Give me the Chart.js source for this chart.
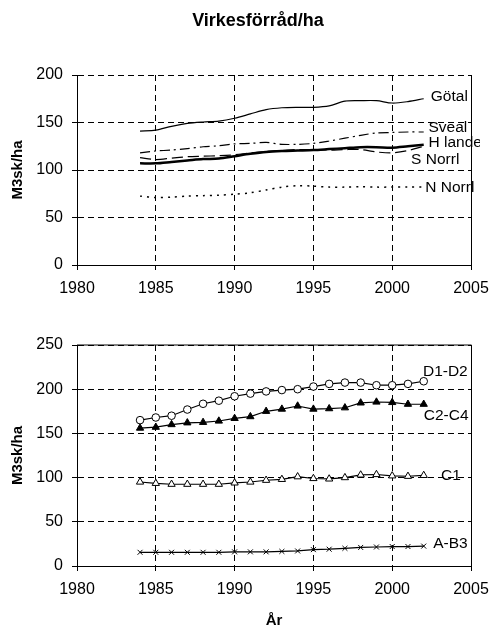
<!DOCTYPE html>
<html>
<head>
<meta charset="utf-8">
<script src="https://cdn.jsdelivr.net/npm/chart.js@4.4.1/dist/chart.umd.min.js"></script>
<style>
  body { margin: 0; background: #fff; }
  #top, #bottom { position: absolute; left: 0; }
  #top { top: 0; }
  #bottom { top: 300px; }
</style>
</head>
<body>
<canvas id="top" width="493" height="300"></canvas>
<canvas id="bottom" width="493" height="328"></canvas>
<script>
// år
const years = [1984, 1985, 1986, 1987, 1988, 1989, 1990, 1991, 1992, 1993, 1994, 1995, 1996, 1997, 1998, 1999, 2000, 2001, 2002];

// övre diagrammet: landsdelar
const gotal   = [141, 142, 146, 149, 150.5, 151.5, 154.5, 159, 163.5, 165.5, 166, 166, 167.5, 172.5, 173, 173, 170.5, 172, 175];
const sveal   = [118, 120, 121, 122.5, 124.5, 125.5, 127.5, 128, 129, 127, 127, 128, 130.5, 133.5, 136.5, 139, 139.5, 140, 140];
const hLandet = [107, 107, 108.5, 110, 111.5, 112, 114.5, 117, 119, 120, 120.5, 121, 122, 123, 124, 124, 123.5, 125, 126.5];
const sNorrl  = [113, 111, 112.5, 114, 114.5, 115, 116, 118, 119.5, 120.5, 121.5, 121.5, 121, 121.5, 121.5, 119, 118, 120.5, 125];
const nNorrl  = [72.5, 71, 71.5, 72.5, 73, 73.5, 74.5, 76, 79, 82, 83.5, 83, 82, 82, 82.5, 82, 82, 82, 82];

// nedre diagrammet: klasser
const d1d2 = [165, 168, 170, 177, 183.5, 187, 192, 195, 197.5, 199, 200, 203, 206, 207.5, 207.5, 204.5, 204.5, 206, 209];
const c2c4 = [156, 157, 160, 162, 162.5, 164, 167, 169, 175, 177.5, 181, 177.5, 178, 179, 184.5, 185.5, 185, 183, 183];
const c1   = [95, 93.5, 92.5, 92.5, 92.5, 92.5, 94, 95, 97, 98, 101, 99, 98.5, 100, 103, 103.5, 102, 101.5, 102.5];
const ab3  = [15.5, 15.5, 15.5, 15.5, 15.5, 15.5, 16, 16, 16, 16.5, 17, 18.5, 19, 20, 21, 21.5, 22, 22, 22.5];

const xTicks = [1980, 1985, 1990, 1995, 2000, 2005];
const topYTicks = [0, 50, 100, 150, 200];
const bottomYTicks = [0, 50, 100, 150, 200, 250];

Chart.defaults.font.family = "'Liberation Sans', Arial, sans-serif";
Chart.defaults.color = '#000';

const pts = arr => arr.map((v, i) => ({ x: years[i], y: v }));

// etiketter vid linjeslut
const lineLabels = {
    id: 'lineLabels',
    afterDatasetsDraw(chart, args, opts) {
        const { ctx, chartArea, scales: { x, y } } = chart;
        ctx.save();
        ctx.beginPath();
        ctx.rect(chartArea.left, chartArea.top - 12, 480 - chartArea.left, chartArea.bottom - chartArea.top + 12);
        ctx.clip();
        ctx.font = "15.5px 'Liberation Sans', Arial, sans-serif";
        ctx.fillStyle = '#000';
        ctx.textBaseline = 'middle';
        ctx.textAlign = 'left';
        opts.items.forEach(it => {
            ctx.fillText(it.text, x.getPixelForValue(it.x), y.getPixelForValue(it.y));
        });
        ctx.restore();
    }
};

// ram runt ritytan
const frame = {
    id: 'frame',
    afterDraw(chart, args, opts) {
        const { ctx, chartArea: a } = chart;
        ctx.save();
        ctx.strokeStyle = '#000';
        ctx.lineWidth = 1;
        ctx.beginPath();
        ctx.moveTo(a.right + 0.5, a.bottom);
        ctx.lineTo(a.right + 0.5, a.top);
        if (opts.top) ctx.lineTo(a.left, a.top);
        ctx.stroke();
        if (opts.title) {
            ctx.font = "bold 18px 'Liberation Sans', Arial, sans-serif";
            ctx.textAlign = 'center';
            ctx.textBaseline = 'middle';
            ctx.fillStyle = '#000';
            ctx.fillText(opts.title, 258, 21);
        }
        ctx.restore();
    }
};

function makeScales(yTicks, yMax, xHeight, xTitle) {
    return {
        x: {
            type: 'linear',
            min: 1980,
            max: 2005,
            afterBuildTicks: s => { s.ticks = xTicks.map(v => ({ value: v })); },
            afterFit: s => { s.height = xHeight; s.paddingLeft = 0; s.paddingRight = 0; },
            ticks: { font: { size: 16 }, padding: 9, maxRotation: 0, callback: v => String(v) },
            grid: { color: '#000', tickLength: 5, tickBorderDash: [] },
            border: { display: true, color: '#000', width: 1, dash: [6, 4] },
            title: xTitle ? { display: true, text: xTitle, font: { size: 15, weight: 'bold' }, padding: { top: 0, bottom: -2 } } : { display: false }
        },
        y: {
            min: 0,
            max: yMax,
            afterBuildTicks: s => { s.ticks = yTicks.map(v => ({ value: v })); },
            afterFit: s => { s.width = 77; s.paddingTop = 0; s.paddingBottom = 0; },
            ticks: { font: { size: 16 }, padding: 9, callback: v => String(v) },
            grid: { color: '#000', tickLength: 5, tickBorderDash: [] },
            border: { display: true, color: '#000', width: 1, dash: [6, 4] },
            title: { display: true, text: 'M3sk/ha', font: { size: 15, weight: 'bold' }, padding: { top: 9, bottom: 0 } }
        }
    };
}

new Chart(document.getElementById('top'), {
    type: 'line',
    data: {
        datasets: [
            { label: 'Götal', data: pts(gotal), borderColor: '#000', borderWidth: 1.2 },
            { label: 'Sveal', data: pts(sveal), borderColor: '#000', borderWidth: 1.2, borderDash: [10, 4, 2, 4] },
            { label: 'H landet', data: pts(hLandet), borderColor: '#000', borderWidth: 2.5 },
            { label: 'S Norrl', data: pts(sNorrl), borderColor: '#000', borderWidth: 1.2, borderDash: [11, 5] },
            { label: 'N Norrl', data: pts(nNorrl), borderColor: '#000', borderWidth: 1.5, borderDash: [2, 5] }
        ]
    },
    options: {
        responsive: false,
        animation: false,
        layout: { padding: { left: 0, right: 22, top: 75, bottom: 0 } },
        elements: { point: { radius: 0 }, line: { tension: 0.3 } },
        plugins: {
            legend: { display: false },
            tooltip: { enabled: false },
            frame: { top: false, title: 'Virkesförråd/ha' },
            lineLabels: {
                items: [
                    { text: 'Götal', x: 2002.45, y: 177 },
                    { text: 'Sveal', x: 2002.3, y: 144 },
                    { text: 'H landet', x: 2002.3, y: 128.7 },
                    { text: 'S Norrl', x: 2001.2, y: 111 },
                    { text: 'N Norrl', x: 2002.1, y: 81.4 }
                ]
            }
        },
        scales: makeScales(topYTicks, 200, 35, null)
    },
    plugins: [lineLabels, frame]
});

new Chart(document.getElementById('bottom'), {
    type: 'line',
    data: {
        datasets: [
            { label: 'D1-D2', data: pts(d1d2), pointStyle: 'circle', pointRadius: 3.8, pointBackgroundColor: '#fff' },
            { label: 'C2-C4', data: pts(c2c4), pointStyle: 'triangle', pointRadius: 4.2, pointBackgroundColor: '#000' },
            { label: 'C1', data: pts(c1), pointStyle: 'triangle', pointRadius: 4.2, pointBackgroundColor: '#fff' },
            { label: 'A-B3', data: pts(ab3), pointStyle: 'crossRot', pointRadius: 3.5, pointBackgroundColor: '#fff' }
        ].map(d => Object.assign(d, { borderColor: '#000', borderWidth: 1.2, pointBorderColor: '#000', pointBorderWidth: 1 }))
    },
    options: {
        responsive: false,
        animation: false,
        layout: { padding: { left: 0, right: 22, top: 45, bottom: 0 } },
        elements: { line: { tension: 0 } },
        plugins: {
            legend: { display: false },
            tooltip: { enabled: false },
            frame: { top: true },
            lineLabels: {
                items: [
                    { text: 'D1-D2', x: 2001.95, y: 219.5 },
                    { text: 'C2-C4', x: 2002, y: 169.7 },
                    { text: 'C1', x: 2003.1, y: 102 },
                    { text: 'A-B3', x: 2002.6, y: 25.6 }
                ]
            }
        },
        scales: makeScales(bottomYTicks, 250, 62, 'År')
    },
    plugins: [lineLabels, frame]
});
</script>
</body>
</html>
